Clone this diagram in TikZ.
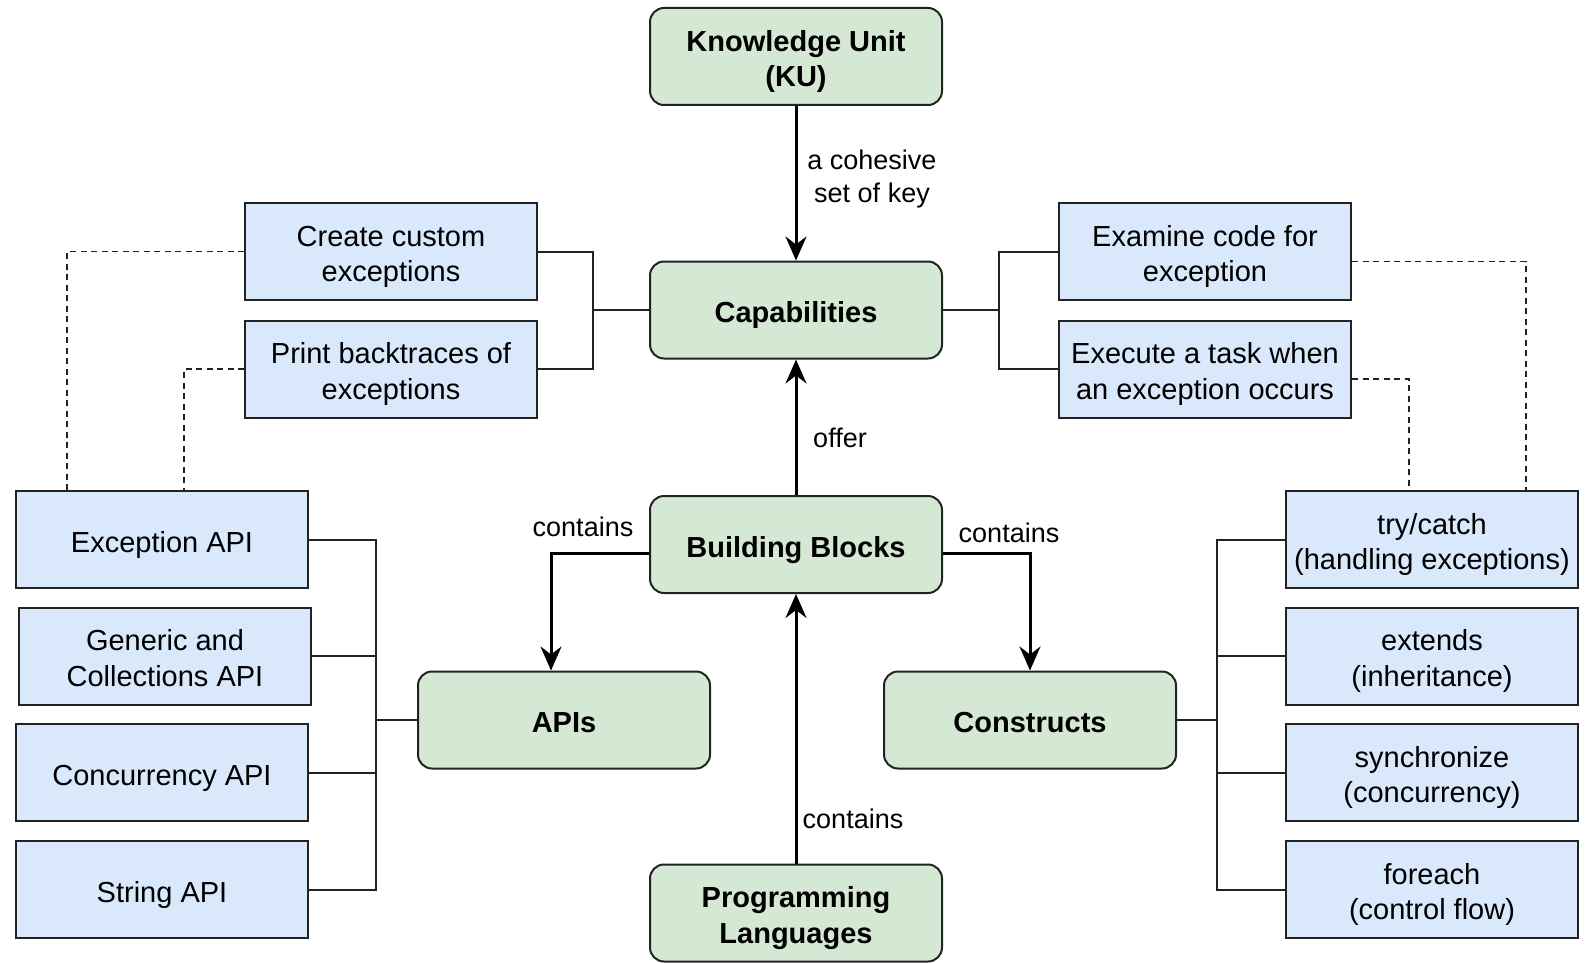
\documentclass[tikz,border=0pt]{standalone}
\usepackage{fontspec}
\setmainfont{Liberation Sans}
\usetikzlibrary{arrows.meta}
\definecolor{kugreen}{HTML}{D5E8D4}
\definecolor{kublue}{HTML}{DAE8FC}
\definecolor{edgegray}{HTML}{222222}
\begin{document}
\begin{tikzpicture}[x=1pt,y=-1pt,
  % fixed text height/depth keep every box's text on the same baseline grid
  basebox/.style={draw=edgegray, line width=2pt, minimum width=292pt, minimum height=97pt,
    align=center, inner sep=0pt, font=\fontsize{29}{35.5}\selectfont,
    text height=33pt, text depth=8pt},
  twoline/.style={text height=68.5pt},
  greenbox/.style={basebox, fill=kugreen, rounded corners=14pt, font=\fontsize{29}{35.5}\selectfont\bfseries},
  bluebox/.style={basebox, fill=kublue},
  mainarrow/.style={draw=black, line width=3pt, -{Stealth[length=24pt,width=21pt,inset=8pt]}},
  bracket/.style={draw=edgegray, line width=2pt},
  dashlink/.style={draw=edgegray, line width=1.8pt, dash pattern=on 6pt off 4.5pt},
  lbl/.style={align=center, inner sep=0pt, font=\fontsize{27}{33.5}\selectfont}]
\useasboundingbox (0,0) rectangle (1590,963);

% central column
\node[greenbox,twoline] (ku)   at (796,56.5) {Knowledge Unit\\(KU)};
\node[greenbox] (caps) at (796,310)  {Capabilities};
\node[greenbox] (bb)   at (796,544.5) {Building Blocks};
\node[greenbox,twoline] (pl)   at (796,913)  {Programming\\Languages};
\node[greenbox] (apis) at (564,720)  {APIs};
\node[greenbox] (cons) at (1030,720) {Constructs};

% capabilities
\node[bluebox,twoline] (create)  at (391,251.5)  {Create custom\\exceptions};
\node[bluebox,twoline] (print)   at (391,369)    {Print backtraces of\\exceptions};
\node[bluebox,twoline] (examine) at (1205,251.5) {Examine code for\\exception};
\node[bluebox,twoline] (execute) at (1205,369)   {Execute a task when\\an exception occurs};

% APIs
\node[bluebox] (exapi)  at (162,539.5) {Exception API};
\node[bluebox,twoline] (genapi) at (165,656)   {Generic and\\Collections API};
\node[bluebox] (conapi) at (162,772.5) {Concurrency API};
\node[bluebox] (strapi) at (162,889.5) {String API};

% constructs
\node[bluebox,twoline] (trycatch) at (1432,539.5) {try/catch\\(handling exceptions)};
\node[bluebox,twoline] (extends)  at (1432,656)   {extends\\(inheritance)};
\node[bluebox,twoline] (sync)     at (1432,772.5) {synchronize\\(concurrency)};
\node[bluebox,twoline] (foreach)  at (1432,889.5) {foreach\\(control flow)};

% main arrows
\draw[mainarrow] (ku) -- (caps);
\draw[mainarrow] (bb) -- (caps);
\draw[mainarrow] (pl) -- (bb);
\draw[mainarrow] ([yshift=-8.5pt]bb.west) -| ([xshift=-13pt]apis.north);
\draw[mainarrow] ([yshift=-8.5pt]bb.east) -| (cons.north);

% arrow labels
\node[lbl] (lkey)  at (872,179) {a cohesive\\set of key};
\node[lbl] (loff)  at (840,438) {offer};
\node[lbl] (lcl)   at (583,527) {contains};
\node[lbl] (lcr)   at (1009,533) {contains};
\node[lbl] (lcb)   at (853,819) {contains};

% brackets around capabilities
\draw[bracket] (caps.west) -- ++(-56,0) coordinate (cl);
\draw[bracket] (create.east) -| (cl) |- (print.east);
\draw[bracket] (caps.east) -- ++(56,0) coordinate (cr);
\draw[bracket] (examine.west) -| (cr) |- (execute.west);

% brackets for APIs and constructs
\draw[bracket] (apis.west) -- ++(-41,0) coordinate (al);
\foreach \n in {exapi,genapi,conapi,strapi}
  \draw[bracket] (\n.east) -| (al);
\draw[bracket] (cons.east) -- ++(40,0) coordinate (cnr);
\foreach \n in {trycatch,extends,sync,foreach}
  \draw[bracket] (\n.west) -| (cnr);

% dashed links between capabilities and their constructs
\draw[dashlink] (create.west) -| ([xshift=-95pt]exapi.north);
\draw[dashlink] (print.west)  -| ([xshift=22pt]exapi.north);
\draw[dashlink] ([yshift=-10pt]examine.east) -| ([xshift=94pt]trycatch.north);
\draw[dashlink] ([yshift=-10pt]execute.east) -| ([xshift=-23pt]trycatch.north);
\end{tikzpicture}
\end{document}
